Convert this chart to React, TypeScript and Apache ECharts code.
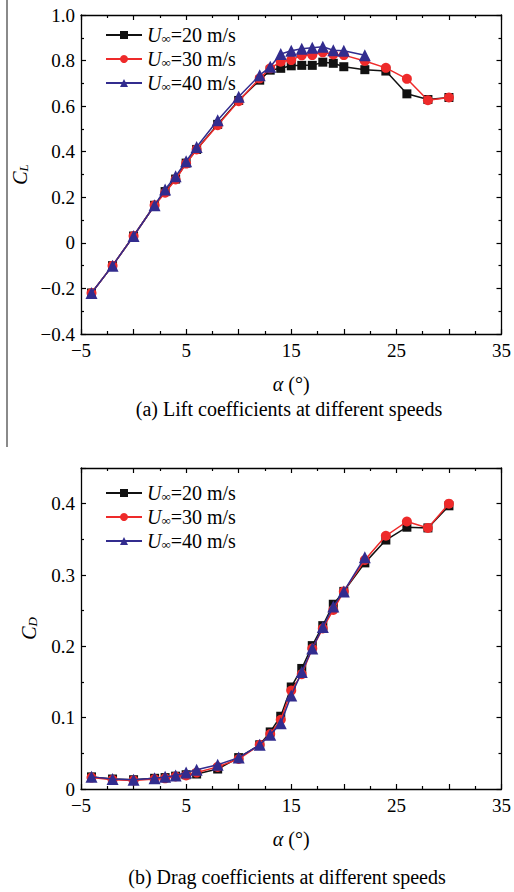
import React, { useEffect, useRef } from "react";
import * as echarts from "echarts";

const alpha = [-4, -2, 0, 2, 3, 4, 5, 6, 8, 10, 12, 13, 14, 15, 16, 17, 18, 19, 20, 22, 24, 26, 28, 30];
const alpha40 = [-4, -2, 0, 2, 3, 4, 5, 6, 8, 10, 12, 13, 14, 15, 16, 17, 18, 19, 20, 22];

const cl20 = [-0.22, -0.1, 0.03, 0.165, 0.225, 0.28, 0.35, 0.41, 0.52, 0.625, 0.714, 0.758, 0.766, 0.777, 0.779, 0.779, 0.793, 0.788, 0.773, 0.76, 0.754, 0.654, 0.629, 0.638];
const cl30 = [-0.22, -0.1, 0.03, 0.165, 0.22, 0.278, 0.348, 0.41, 0.516, 0.622, 0.722, 0.766, 0.795, 0.802, 0.823, 0.824, 0.836, 0.827, 0.824, 0.798, 0.768, 0.72, 0.626, 0.638];
const cl40 = [-0.22, -0.1, 0.03, 0.165, 0.234, 0.292, 0.358, 0.421, 0.538, 0.641, 0.736, 0.773, 0.829, 0.843, 0.852, 0.856, 0.861, 0.845, 0.843, 0.823];

const cd20 = [0.017, 0.014, 0.013, 0.015, 0.016, 0.018, 0.02, 0.021, 0.028, 0.044, 0.062, 0.08, 0.102, 0.143, 0.169, 0.201, 0.229, 0.259, 0.277, 0.317, 0.349, 0.367, 0.366, 0.397];
const cd30 = [0.016, 0.013, 0.012, 0.014, 0.015, 0.0175, 0.019, 0.023, 0.031, 0.042, 0.062, 0.077, 0.097, 0.138, 0.161, 0.197, 0.225, 0.251, 0.277, 0.321, 0.355, 0.375, 0.366, 0.4];
const cd40 = [0.017, 0.014, 0.013, 0.015, 0.017, 0.019, 0.023, 0.027, 0.034, 0.044, 0.062, 0.076, 0.092, 0.131, 0.164, 0.197, 0.227, 0.256, 0.277, 0.325];

const speeds = ["20", "30", "40"];
const seriesNames = speeds.map((s) => "U\u221e=" + s + " m/s");
const xTickLabels = [-5, 5, 15, 25, 35];

const FONT = "Liberation Serif";
const colors = ["#111111", "#ee2a2a", "#322c8e"];
const symbols = ["rect", "circle", "triangle"];
const symbolSizes = [9, 10, 12];

const fmtNum = (v: number, digits: number) => {
  if (Math.abs(v) < 1e-9) return "0";
  const s = Math.abs(v).toFixed(digits);
  return v < 0 ? "\u2212" + s : s;
};

const subRich = {
  it: { fontFamily: FONT, fontStyle: "italic", fontSize: 20, color: "#000", lineHeight: 18, verticalAlign: "bottom" },
  sub: { fontFamily: FONT, fontStyle: "italic", fontSize: 13, color: "#000", lineHeight: 4, verticalAlign: "bottom" },
  n: { fontFamily: FONT, fontSize: 20, color: "#000", lineHeight: 18, verticalAlign: "bottom" },
};

function makeAxes(gridIndex: number, yMin: number, yMax: number, yInt: number, yName: string, yDigits: number) {
  const tickStyle = {
    axisLine: { show: true, onZero: false, lineStyle: { color: "#000", width: 1.3 } },
    axisTick: { show: true, inside: true, length: 5, lineStyle: { color: "#000", width: 1.2 } },
    minorTick: { show: true, splitNumber: 2, length: 3, lineStyle: { color: "#000", width: 1.2 } },
    splitLine: { show: false },
    minorSplitLine: { show: false },
  };
  const xBase = { type: "value", gridIndex, min: -5, max: 35, interval: 5, ...tickStyle };
  const yBase = { type: "value", gridIndex, min: yMin, max: yMax, interval: yInt, ...tickStyle };
  const labelStyle = { show: true, margin: 6, fontFamily: FONT, fontSize: 19, color: "#000" };
  const xAxes = [
    {
      ...xBase,
      position: "bottom",
      axisLabel: {
        ...labelStyle,
        margin: 7,
        formatter: (v: number) => (xTickLabels.includes(v) ? fmtNum(v, 0) : ""),
      },
      name: "{it|\u03b1}{n| (\u00b0)}",
      nameLocation: "middle",
      nameGap: 42,
      nameTextStyle: { fontFamily: FONT, rich: subRich },
    },
    { ...xBase, position: "top", axisLabel: { show: false } },
  ];
  const yAxes = [
    {
      ...yBase,
      position: "left",
      axisLabel: {
        ...labelStyle,
        formatter: (v: number) => (v > yMax - 1e-9 && gridIndex === 1 ? "" : fmtNum(v, yDigits)),
      },
      name: yName,
      nameLocation: "middle",
      nameGap: 42,
      nameRotate: 90,
      nameTextStyle: { fontFamily: FONT, rich: subRich },
    },
    { ...yBase, position: "right", axisLabel: { show: false } },
  ];
  return { xAxes, yAxes };
}

export default function App() {
  const ref = useRef<HTMLDivElement>(null);
  useEffect(() => {
    if (!ref.current) return;
    const chart = echarts.init(ref.current, null, { renderer: "svg" });
    const top = makeAxes(0, -0.4, 1.0, 0.2, "{it|C}{sub|L}", 1);
    const bot = makeAxes(1, 0, 0.45, 0.1, "{it|C}{sub|D}", 1);

    const clData = [cl20, cl30, cl40];
    const cdData = [cd20, cd30, cd40];
    const xs = [alpha, alpha, alpha40];

    const series: any[] = [];
    [0, 1].forEach((g) => {
      const data = g === 0 ? clData : cdData;
      for (let i = 0; i < 3; i++) {
        series.push({
          type: "line",
          name: seriesNames[i],
          xAxisIndex: g * 2,
          yAxisIndex: g * 2,
          data: xs[i].map((x, k) => [x, data[i][k]]),
          symbol: symbols[i],
          symbolSize: symbolSizes[i],
          showSymbol: true,
          lineStyle: { color: colors[i], width: 1.5 },
          itemStyle: { color: colors[i], borderWidth: 0 },
          z: 2 + i,
        });
      }
    });

    const legendRich = {
      it: { fontFamily: FONT, fontStyle: "italic", fontSize: 20, color: "#000", lineHeight: 20, verticalAlign: "bottom" },
      sub: { fontFamily: FONT, fontSize: 13, color: "#000", lineHeight: 4, verticalAlign: "bottom" },
      n: { fontFamily: FONT, fontSize: 20, color: "#000", lineHeight: 20, verticalAlign: "bottom" },
    };
    const legendFmt = (name: string) => {
      const i = seriesNames.indexOf(name);
      return "{it|U}{sub|\u221e}{n|=" + speeds[i] + " m/s}";
    };
    const mkLegend = (topPx: number) => ({
      orient: "vertical",
      left: 100,
      top: topPx,
      itemWidth: 36,
      itemHeight: 10,
      itemGap: 4,
      data: seriesNames,
      formatter: legendFmt,
      textStyle: { fontFamily: FONT, fontSize: 20, rich: legendRich },
      selectedMode: false,
    });

    chart.setOption({
      animation: false,
      backgroundColor: "#fff",
      textStyle: { fontFamily: FONT },
      grid: [
        { left: 81, top: 15, width: 424, height: 319 },
        { left: 81, top: 468, width: 424, height: 321 },
      ],
      xAxis: [...top.xAxes, ...bot.xAxes],
      yAxis: [...top.yAxes, ...bot.yAxes],
      legend: [mkLegend(20), mkLegend(478)],
      series,
      graphic: [
        { type: "line", shape: { x1: 7, y1: 0, x2: 7, y2: 447 }, style: { stroke: "#8a8a8a", lineWidth: 2 } },
        {
          type: "text",
          x: 289,
          y: 409,
          style: { text: "(a) Lift coefficients at different speeds", font: "20px 'Liberation Serif'", fill: "#000", textAlign: "center", textVerticalAlign: "middle" },
        },
        {
          type: "text",
          x: 287,
          y: 877,
          style: { text: "(b) Drag coefficients at different speeds", font: "20px 'Liberation Serif'", fill: "#000", textAlign: "center", textVerticalAlign: "middle" },
        },
      ],
    });
    return () => chart.dispose();
  }, []);
  return <div ref={ref} style={{ position: "absolute", left: 0, top: 0, width: 514, height: 892 }} />;
}
